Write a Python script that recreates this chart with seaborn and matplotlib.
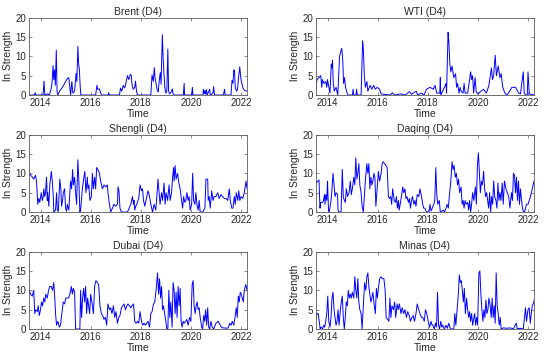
import matplotlib
matplotlib.use("Agg")
import matplotlib.pyplot as plt
import seaborn as sns
import pandas as pd

# ---------------- data (decimal year, ln strength) ----------------
titles = ["Brent (D4)", "WTI (D4)", "Shengli (D4)", "Daqing (D4)", "Dubai (D4)", "Minas (D4)"]
x_ticks = [2014, 2016, 2018, 2020, 2022]
y_ticks = [0, 5, 10, 15, 20]

brent_t = [2013.55, 2013.75, 2013.79, 2013.82, 2014.10, 2014.14, 2014.17, 2014.28, 2014.35, 2014.42,
           2014.46, 2014.50, 2014.53, 2014.56, 2014.59, 2014.63, 2014.66, 2014.69, 2014.78, 2014.85,
           2014.92, 2015.00, 2015.08, 2015.13, 2015.17, 2015.20, 2015.25, 2015.29, 2015.36, 2015.42,
           2015.45, 2015.49, 2015.52, 2015.55, 2015.58, 2015.61, 2016.20, 2016.25, 2016.28, 2016.35,
           2016.40, 2016.45, 2016.70, 2016.72, 2016.75, 2017.15, 2017.19, 2017.24, 2017.30, 2017.36,
           2017.42, 2017.47, 2017.52, 2017.58, 2017.62, 2017.65, 2017.70, 2017.76, 2017.79, 2017.83,
           2017.87, 2018.40, 2018.45, 2018.50, 2018.54, 2018.57, 2018.61, 2018.66, 2018.70, 2018.74,
           2018.78, 2018.81, 2018.86, 2018.89, 2018.92, 2018.96, 2019.00, 2019.04, 2019.08, 2019.11,
           2019.15, 2019.22, 2019.26, 2019.29, 2019.33, 2019.70, 2019.73, 2019.75, 2020.03, 2020.06,
           2020.08, 2020.48, 2020.50, 2020.53, 2020.56, 2020.59, 2020.62, 2020.65, 2020.75, 2020.77,
           2020.88, 2020.91, 2020.94, 2021.30, 2021.34, 2021.37, 2021.60, 2021.64, 2021.68, 2021.71,
           2021.74, 2021.77, 2021.82, 2021.86, 2021.91, 2021.95, 2021.99, 2022.03, 2022.08, 2022.14, 2022.22]
brent_v = [0, 0, 0.6, 0, 0, 3.6, 0, 0.3, 0, 1.5,
           3.2, 7.6, 4, 6.5, 2.5, 11.6, 1, 0, 1.2, 1.8,
           2.5, 3.5, 4.3, 4.5, 2, 0, 3.5, 0.5, 1, 5.6,
           3.5, 12.6, 8, 6.8, 2.5, 0, 0, 2.5, 1.5, 1.6,
           0.5, 0, 0, 0.6, 0, 0, 1.8, 1, 2.5, 1.8,
           3.5, 5, 4, 5.3, 5.2, 2.8, 1.5, 2, 3.6, 1,
           0, 0, 5.2, 3.5, 7.1, 4.5, 3, 1.2, 0.8, 4,
           5.8, 2.8, 15.6, 10, 6, 2, 0.5, 1, 11.9, 1,
           0.3, 0.8, 1.6, 0.3, 0, 0, 3, 0, 0, 2,
           0, 0, 1.5, 0.3, 1.2, 0.2, 1.4, 0, 1.5, 0,
           0.5, 2.2, 0, 0, 1.5, 0, 0, 3.8, 3, 6.5,
           6.4, 2, 1, 1.5, 5, 7.3, 4.5, 3, 1.8, 1.2, 1.0]

wti_t = [2013.52, 2013.58, 2013.66, 2013.73, 2013.77, 2013.80, 2013.86, 2013.93, 2013.97, 2014.00,
         2014.04, 2014.10, 2014.15, 2014.18, 2014.20, 2014.23, 2014.27, 2014.34, 2014.41, 2014.48,
         2014.54, 2014.57, 2014.61, 2014.64, 2014.68, 2014.72, 2014.78, 2014.82, 2015.00, 2015.02,
         2015.05, 2015.14, 2015.16, 2015.19, 2015.34, 2015.40, 2015.43, 2015.47, 2015.51, 2015.57,
         2015.61, 2015.70, 2015.77, 2015.84, 2015.91, 2015.98, 2016.08, 2016.14, 2016.50, 2016.59,
         2016.68, 2016.93, 2017.10, 2017.27, 2017.35, 2017.54, 2017.60, 2017.75, 2017.85, 2017.95,
         2018.09, 2018.22, 2018.29, 2018.36, 2018.48, 2018.50, 2018.52, 2018.63, 2018.73, 2018.75,
         2018.81, 2018.84, 2018.88, 2018.92, 2018.97, 2019.04, 2019.11, 2019.15, 2019.19, 2019.25,
         2019.29, 2019.33, 2019.41, 2019.45, 2019.49, 2019.59, 2019.65, 2019.71, 2019.75, 2019.79,
         2019.83, 2019.89, 2019.93, 2019.99, 2020.13, 2020.23, 2020.34, 2020.44, 2020.54, 2020.58,
         2020.63, 2020.69, 2020.74, 2020.81, 2020.88, 2020.93, 2020.99, 2021.08, 2021.15, 2021.22,
         2021.36, 2021.50, 2021.63, 2021.70, 2021.77, 2021.81, 2021.85, 2021.91, 2021.97, 2022.00,
         2022.05, 2022.23]
wti_v = [1, 4, 4.5, 5, 2, 4, 3, 3.5, 2, 4,
         2.5, 0.5, 8, 7, 9, 3, 1, 2, 0, 10,
         11.5, 12, 9, 3, 4.5, 2, 0.5, 0, 0, 1.5,
         0, 0, 1.5, 0, 0, 14, 12, 5, 2, 3.5,
         1, 2.5, 1.5, 2.5, 1.5, 2, 1.5, 0.3, 0, 0.6,
         0, 0.3, 0, 0.9, 0.2, 1, 0, 0.5, 0, 1.5,
         2, 1.5, 2.5, 0.5, 0.5, 4.5, 0, 1.5, 3, 0.5,
         16.2, 14, 8, 6, 7.5, 4.5, 5.5, 2, 3, 0.5,
         2, 1, 0.5, 3, 0.5, 0.5, 3, 6, 4, 5,
         0.5, 4.5, 1, 0.3, 1, 1.5, 0.5, 2.5, 7, 4,
         5, 10.3, 5, 7.5, 4.5, 5.5, 2, 0.5, 0, 0.5,
         2, 2, 0.5, 0.3, 4, 6, 0.5, 0, 0, 6,
         0.3, 0]

shengli_t = [2013.56, 2013.67, 2013.73, 2013.80, 2013.84, 2013.89, 2013.93, 2013.97, 2014.03, 2014.07,
             2014.11, 2014.13, 2014.17, 2014.20, 2014.24, 2014.27, 2014.29, 2014.33, 2014.37, 2014.43,
             2014.47, 2014.51, 2014.53, 2014.60, 2014.64, 2014.67, 2014.71, 2014.77, 2014.81, 2014.84,
             2014.88, 2014.91, 2014.96, 2015.00, 2015.04, 2015.07, 2015.13, 2015.20, 2015.24, 2015.28,
             2015.31, 2015.36, 2015.40, 2015.44, 2015.49, 2015.53, 2015.57, 2015.60, 2015.67, 2015.73,
             2015.77, 2015.81, 2015.87, 2015.89, 2015.93, 2015.97, 2016.03, 2016.07, 2016.11, 2016.16,
             2016.20, 2016.24, 2016.29, 2016.35, 2016.40, 2016.47, 2016.53, 2016.60, 2016.67, 2016.69,
             2016.75, 2016.80, 2016.87, 2016.93, 2017.00, 2017.07, 2017.09, 2017.13, 2017.17, 2017.23,
             2017.47, 2017.60, 2017.67, 2017.71, 2017.73, 2017.76, 2017.80, 2017.87, 2017.93, 2017.97,
             2018.03, 2018.07, 2018.11, 2018.16, 2018.24, 2018.29, 2018.35, 2018.40, 2018.47, 2018.53,
             2018.60, 2018.69, 2018.73, 2018.77, 2018.83, 2018.87, 2018.93, 2018.97, 2019.01, 2019.07,
             2019.13, 2019.17, 2019.23, 2019.27, 2019.31, 2019.33, 2019.37, 2019.41, 2019.47, 2019.52,
             2019.57, 2019.63, 2019.67, 2019.71, 2019.76, 2019.80, 2019.84, 2019.89, 2019.93, 2019.97,
             2020.03, 2020.07, 2020.11, 2020.16, 2020.20, 2020.24, 2020.29, 2020.33, 2020.37, 2020.47,
             2020.51, 2020.56, 2020.60, 2020.67, 2020.69, 2020.73, 2020.77, 2020.83, 2020.88, 2020.93,
             2021.00, 2021.07, 2021.13, 2021.20, 2021.27, 2021.33, 2021.40, 2021.47, 2021.53, 2021.57,
             2021.63, 2021.68, 2021.73, 2021.77, 2021.81, 2021.87, 2021.91, 2021.95, 2022.00, 2022.07,
             2022.13, 2022.20, 2022.24]
shengli_v = [10, 9, 8.5, 9.5, 8, 2, 3.5, 2.5, 5, 3,
             4, 6, 4, 5, 9, 3, 5, 1.5, 7, 10.5,
             8, 4, 0, 0.5, 5, 0.5, 0.2, 8.5, 6, 1.5,
             3, 5, 6, 1, 0.2, 2, 0.5, 8, 6, 11,
             7, 9, 5, 2, 13.5, 8, 0, 0.5, 6, 9,
             10.5, 5, 9, 6, 7, 3, 4, 10, 6, 9,
             6, 11.5, 11, 10, 8, 6, 7, 6.5, 7, 5,
             2, 0, 1, 2, 1.5, 2, 6.5, 5.5, 1, 0,
             0, 2, 4, 2, 3, 0.5, 1.5, 2.5, 4, 7,
             5.5, 6, 3, 1.5, 4, 5.5, 4, 2, 0, 2,
             0.5, 8.5, 5, 2, 5, 3, 7.5, 2, 5, 3,
             7, 3, 5, 9, 11.5, 8, 12, 8.5, 10, 7.5,
             6, 3, 1, 4, 2.5, 3, 5, 3, 4, 0.5,
             2, 10, 3, 2, 5, 2, 0.5, 3, 0, 0,
             0.5, 1, 8.5, 8.5, 3, 4, 1, 5.5, 3, 4,
             4, 5, 3.5, 4.5, 4, 3.5, 3.5, 3, 6, 3,
             1, 1, 4, 2, 5, 3, 5.5, 3, 4, 3.5,
             5, 8, 6]

daqing_t = [2013.52, 2013.55, 2013.62, 2013.66, 2013.70, 2013.73, 2013.80, 2013.84, 2013.88, 2013.90,
            2013.93, 2013.97, 2014.00, 2014.04, 2014.07, 2014.14, 2014.18, 2014.22, 2014.26, 2014.30,
            2014.34, 2014.40, 2014.42, 2014.45, 2014.54, 2014.59, 2014.63, 2014.67, 2014.71, 2014.75,
            2014.80, 2014.86, 2014.91, 2014.95, 2014.99, 2015.05, 2015.09, 2015.13, 2015.17, 2015.21,
            2015.25, 2015.29, 2015.34, 2015.38, 2015.43, 2015.46, 2015.51, 2015.57, 2015.61, 2015.65,
            2015.69, 2015.73, 2015.77, 2015.81, 2015.85, 2015.89, 2015.93, 2015.98, 2016.03, 2016.08,
            2016.14, 2016.18, 2016.22, 2016.28, 2016.33, 2016.38, 2016.43, 2016.47, 2016.52, 2016.56,
            2016.60, 2016.66, 2016.71, 2016.75, 2016.79, 2016.83, 2016.86, 2016.90, 2016.96, 2017.00,
            2017.04, 2017.09, 2017.13, 2017.17, 2017.23, 2017.27, 2017.31, 2017.35, 2017.39, 2017.45,
            2017.49, 2017.53, 2017.58, 2017.64, 2017.69, 2017.75, 2017.80, 2017.84, 2017.88, 2017.95,
            2018.05, 2018.09, 2018.13, 2018.18, 2018.24, 2018.28, 2018.32, 2018.36, 2018.40, 2018.46,
            2018.50, 2018.63, 2018.67, 2018.73, 2018.77, 2018.82, 2018.86, 2018.92, 2018.97, 2019.01,
            2019.05, 2019.10, 2019.14, 2019.19, 2019.23, 2019.27, 2019.33, 2019.37, 2019.41, 2019.45,
            2019.49, 2019.53, 2019.59, 2019.63, 2019.67, 2019.71, 2019.75, 2019.79, 2019.84, 2019.90,
            2019.94, 2019.98, 2020.02, 2020.06, 2020.10, 2020.14, 2020.18, 2020.23, 2020.27, 2020.31,
            2020.35, 2020.39, 2020.43, 2020.47, 2020.51, 2020.55, 2020.59, 2020.63, 2020.67, 2020.72,
            2020.76, 2020.80, 2020.84, 2020.88, 2020.92, 2020.97, 2021.01, 2021.06, 2021.12, 2021.17,
            2021.23, 2021.28, 2021.34, 2021.38, 2021.42, 2021.46, 2021.50, 2021.54, 2021.58, 2021.62,
            2021.66, 2021.70, 2021.74, 2021.78, 2021.82, 2021.86, 2021.90, 2021.94, 2022.00, 2022.05,
            2022.10, 2022.17, 2022.24]
daqing_v = [8.5, 7.5, 8, 8.3, 1, 2.5, 2.5, 3, 4.5, 2,
            4.5, 3, 8, 0.5, 0, 3, 6, 10, 7, 4,
            5, 4.5, 0.5, 0, 0, 11, 4, 3, 2.5, 6,
            4, 5, 8, 4.5, 6, 9, 7, 14, 8.5, 10,
            12.5, 7, 5, 1.5, 0, 3, 8, 12.5, 10, 12.5,
            6, 9, 7, 8, 10, 9, 1.5, 6, 10.5, 8,
            10, 12.5, 13, 12.5, 12, 11.5, 4, 3.5, 4, 2,
            6, 3, 2.5, 4, 1, 3, 0.5, 2, 4.5, 6.5,
            5, 6, 3.5, 4, 2.5, 3.5, 1, 3, 4, 2,
            3, 1.5, 4.5, 4, 6, 4, 2, 1, 1, 0,
            0, 2, 0.3, 1, 2, 3, 11.5, 4.5, 2, 3,
            0, 0.5, 0, 1, 2, 1, 4, 8, 13, 11,
            12, 9, 10, 7, 8.5, 5, 6.5, 2, 3, 1,
            3, 2, 2.5, 0.5, 3, 0, 2, 5, 3, 6.5,
            2, 12, 15.3, 10, 5, 8, 7, 10.5, 6, 4,
            5, 3, 1, 5, 0, 4, 2, 8, 4, 3,
            1, 7.5, 3, 5, 3, 7.5, 2, 8, 6, 5,
            4, 1, 5, 3, 10, 9.5, 5, 9, 3, 8,
            2, 6, 3, 1, 0, 0, 1, 2, 2, 3,
            4, 6, 8]

dubai_t = [2013.56, 2013.60, 2013.67, 2013.73, 2013.77, 2013.81, 2013.87, 2013.91, 2013.95, 2014.00,
           2014.04, 2014.08, 2014.13, 2014.17, 2014.21, 2014.27, 2014.32, 2014.37, 2014.43, 2014.48,
           2014.53, 2014.57, 2014.60, 2014.64, 2014.69, 2014.75, 2014.80, 2014.85, 2014.91, 2014.96,
           2015.01, 2015.07, 2015.12, 2015.17, 2015.23, 2015.27, 2015.31, 2015.36, 2015.40, 2015.57,
           2015.60, 2015.64, 2015.68, 2015.72, 2015.76, 2015.80, 2015.84, 2015.88, 2015.92, 2015.96,
           2016.00, 2016.05, 2016.11, 2016.16, 2016.21, 2016.27, 2016.32, 2016.37, 2016.43, 2016.48,
           2016.53, 2016.59, 2016.64, 2016.69, 2016.75, 2016.80, 2016.85, 2016.91, 2016.96, 2017.01,
           2017.07, 2017.12, 2017.17, 2017.23, 2017.28, 2017.33, 2017.39, 2017.44, 2017.49, 2017.55,
           2017.60, 2017.65, 2017.71, 2017.76, 2017.81, 2017.87, 2017.92, 2017.97, 2018.03, 2018.08,
           2018.13, 2018.19, 2018.24, 2018.29, 2018.35, 2018.40, 2018.45, 2018.51, 2018.56, 2018.61,
           2018.67, 2018.71, 2018.75, 2018.79, 2018.83, 2018.87, 2018.91, 2018.95, 2018.99, 2019.04,
           2019.08, 2019.12, 2019.16, 2019.20, 2019.25, 2019.29, 2019.33, 2019.37, 2019.41, 2019.45,
           2019.49, 2019.53, 2019.57, 2019.61, 2019.65, 2019.69, 2019.73, 2019.79, 2019.84, 2019.89,
           2019.95, 2020.00, 2020.05, 2020.09, 2020.13, 2020.17, 2020.21, 2020.25, 2020.29, 2020.33,
           2020.37, 2020.43, 2020.47, 2020.51, 2020.55, 2020.59, 2020.63, 2020.67, 2020.71, 2020.75,
           2020.80, 2020.85, 2020.91, 2021.00, 2021.09, 2021.17, 2021.25, 2021.33, 2021.41, 2021.49,
           2021.55, 2021.60, 2021.65, 2021.71, 2021.76, 2021.81, 2021.85, 2021.89, 2021.93, 2021.97,
           2022.01, 2022.05, 2022.09, 2022.13, 2022.19, 2022.24]
dubai_v = [10, 9, 8.5, 10, 4, 5, 4.5, 6, 3.5, 5,
           7, 6, 8, 7, 9, 8, 10, 11, 11, 10,
           12, 8, 4, 1, 2, 0.5, 1, 4, 7, 6.5,
           8, 8, 8, 9, 11, 9, 10.5, 9.5, 0, 0,
           10, 3, 8, 10.5, 7, 11, 4, 8, 6, 4,
           9, 7, 4, 11, 12.5, 12, 11.5, 6, 4, 3.5,
           2.5, 3, 1, 6.5, 5, 5.5, 4, 6, 3, 4.5,
           1.5, 3, 3.5, 5.5, 6, 6.5, 5, 6, 6.5, 6,
           5.5, 6, 6.5, 2, 1.5, 2, 1.5, 4.5, 2, 1,
           1.5, 1, 1.5, 2, 0.5, 4, 4.5, 6.5, 7, 10,
           14.5, 9, 13, 8, 11, 5, 6, 4, 2.5, 0,
           0, 10, 3, 7, 0.5, 12, 10, 4, 9.5, 3,
           11, 6, 10.5, 2, 0.5, 2, 1.5, 2, 2.5, 1,
           3, 2, 11.5, 12.5, 6, 4, 6, 7, 5, 5.5,
           3, 0.5, 0, 3.5, 2, 5, 1, 5.5, 0.5, 0,
           2, 0.5, 0, 1.5, 2, 1, 0.3, 0.3, 0.2, 0.3,
           1.5, 1, 2, 1, 3, 5.5, 3, 8.5, 7, 9.5,
           9, 8, 7, 10, 11.5, 10]

minas_t = [2013.52, 2013.58, 2013.63, 2013.67, 2013.71, 2013.75, 2013.80, 2013.85, 2013.89, 2013.93,
           2013.97, 2014.01, 2014.05, 2014.10, 2014.14, 2014.18, 2014.22, 2014.26, 2014.30, 2014.34,
           2014.38, 2014.42, 2014.46, 2014.50, 2014.54, 2014.59, 2014.63, 2014.67, 2014.71, 2014.75,
           2014.79, 2014.83, 2014.87, 2014.91, 2014.95, 2014.99, 2015.05, 2015.09, 2015.13, 2015.17,
           2015.21, 2015.25, 2015.29, 2015.34, 2015.38, 2015.43, 2015.48, 2015.53, 2015.57, 2015.61,
           2015.65, 2015.69, 2015.73, 2015.77, 2015.81, 2015.85, 2015.91, 2015.95, 2015.99, 2016.03,
           2016.08, 2016.14, 2016.19, 2016.25, 2016.30, 2016.34, 2016.40, 2016.45, 2016.49, 2016.53,
           2016.57, 2016.63, 2016.68, 2016.72, 2016.78, 2016.82, 2016.87, 2016.93, 2016.98, 2017.04,
           2017.09, 2017.15, 2017.20, 2017.26, 2017.31, 2017.37, 2017.42, 2017.47, 2017.53, 2017.58,
           2017.64, 2017.69, 2017.75, 2017.80, 2017.86, 2017.91, 2017.96, 2018.02, 2018.07, 2018.13,
           2018.17, 2018.21, 2018.26, 2018.31, 2018.35, 2018.39, 2018.43, 2018.47, 2018.52, 2018.56,
           2018.60, 2018.66, 2018.73, 2018.78, 2018.84, 2018.89, 2018.95, 2019.04, 2019.08, 2019.12,
           2019.18, 2019.22, 2019.26, 2019.30, 2019.34, 2019.38, 2019.42, 2019.46, 2019.50, 2019.55,
           2019.59, 2019.63, 2019.67, 2019.71, 2019.75, 2019.79, 2019.83, 2019.87, 2019.91, 2019.95,
           2019.99, 2020.04, 2020.08, 2020.12, 2020.16, 2020.20, 2020.24, 2020.28, 2020.32, 2020.36,
           2020.40, 2020.44, 2020.49, 2020.53, 2020.57, 2020.61, 2020.65, 2020.69, 2020.73, 2020.77,
           2020.81, 2020.85, 2020.89, 2020.93, 2021.01, 2021.15, 2021.28, 2021.42, 2021.53, 2021.57,
           2021.70, 2021.81, 2021.86, 2021.90, 2021.94, 2022.00, 2022.05, 2022.09, 2022.13, 2022.17,
           2022.21, 2022.27]
minas_v = [2, 4, 4, 2, 0, 0.5, 0, 1, 0.5, 2,
           4, 8.5, 2, 0.5, 3, 8, 9.5, 5, 3, 1,
           2, 5, 1, 4, 6.5, 8.5, 3, 0, 3, 7,
           6, 10, 8, 9, 8, 9.5, 8, 13.5, 10, 8,
           13, 7, 5, 4, 0, 6, 12, 10, 13.5, 14.5,
           11, 9, 7, 8, 9.5, 7, 4, 10.5, 8, 10.5,
           13, 13.5, 13, 13, 10, 3, 2.5, 2, 8, 3,
           6, 5, 7, 3, 6.5, 5, 6.5, 4, 5.5, 4,
           5, 3, 4.5, 3.5, 2, 3, 3.5, 2, 4, 6.5,
           5, 4, 3, 3, 2, 5, 4, 2, 0.5, 2,
           1, 1, 0, 1.5, 0.5, 9.5, 1, 0, 2, 0.5,
           1, 0, 1, 0.2, 1.5, 0.3, 0, 0, 4, 1,
           6, 9, 14, 12, 12.5, 10, 7, 10.5, 4, 8,
           5, 3, 4.5, 2, 4, 1, 2.5, 4, 1, 3,
           1, 14.5, 15, 9, 5, 2, 5, 3, 7.5, 4,
           5, 8, 6, 3, 8, 3, 6, 1.5, 14.5, 6,
           4, 1, 3, 0, 0.3, 0.2, 0.3, 0.1, 1.5, 0.1,
           0.2, 0, 3, 5.5, 2, 5, 5.5, 1.5, 4, 6,
           6.5, 8]

series = [(brent_t, brent_v), (wti_t, wti_v), (shengli_t, shengli_v),
          (daqing_t, daqing_v), (dubai_t, dubai_v), (minas_t, minas_v)]

# ---------------- style ----------------
sns.set_theme(style="white")
plt.rcParams["font.family"] = ["Liberation Sans", "DejaVu Sans"]
axis_col = "#5a5a5a"
text_col = "#262626"

fig = plt.figure(figsize=(5.5, 3.6), dpi=100)
fig.patch.set_facecolor("white")

lefts = [0.0527, 0.5745]
bottoms = [0.736, 0.411, 0.086]
w, h = 0.396, 0.215

for i, (title, (t, v)) in enumerate(zip(titles, series)):
    assert len(t) == len(v), (title, len(t), len(v))
    row, col = divmod(i, 2)
    ax = fig.add_axes([lefts[col], bottoms[row], w, h])
    df = pd.DataFrame({"Time": t, "value": v})
    sns.lineplot(data=df, x="Time", y="value", ax=ax, color="#0000ff",
                 linewidth=0.7, estimator=None, sort=False)
    ax.set_xlim(2013.54, 2022.23)
    ax.set_ylim(0, 20)
    ax.set_xticks(x_ticks)
    ax.set_xticklabels([str(x) for x in x_ticks])
    ax.set_yticks(y_ticks)
    ax.set_title(title, fontsize=7.5, color=text_col, pad=2)
    ax.set_xlabel("Time", fontsize=7.5, color=text_col, labelpad=1)
    ax.set_ylabel("ln Strength", fontsize=7.5, color=text_col, labelpad=2)
    ax.tick_params(axis="both", which="both", direction="in", length=2.5, width=0.5,
                   labelsize=7, colors=axis_col, labelcolor=text_col,
                   top=True, right=True, bottom=True, left=True, pad=2)
    for s in ax.spines.values():
        s.set_visible(True)
        s.set_color(axis_col)
        s.set_linewidth(0.6)
    ax.grid(False)

fig.savefig("out.png", dpi=100, facecolor="white")
